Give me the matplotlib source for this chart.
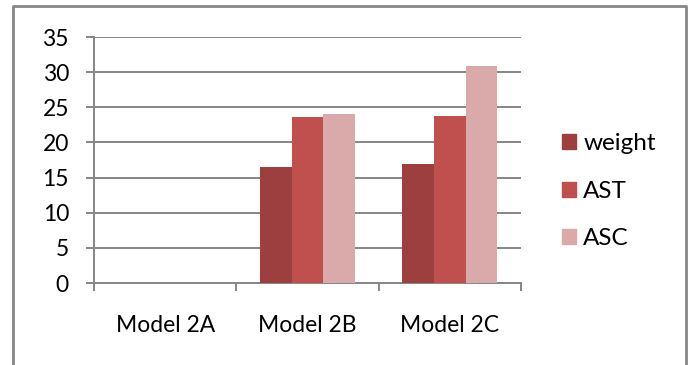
import numpy as np
from matplotlib import pyplot as plt
from matplotlib.patches import Patch

plt.rcParams['font.family'] = ['Lato', 'DejaVu Sans']

models = ['Model 2A', 'Model 2B', 'Model 2C']
weight = [0, 16.5, 16.9]
ast = [0, 23.65, 23.8]
asc = [0, 24.1, 30.9]

series = [('weight', weight, '#9d3f3e'),
          ('AST', ast, '#c0504e'),
          ('ASC', asc, '#daa9a9')]

fig = plt.figure(figsize=(6.91, 3.65), dpi=100)
ax = fig.add_axes([94 / 691, 1 - 283 / 365, 427 / 691, 246 / 365])

x = np.arange(len(models))
w = 0.222
for i, (name, vals, col) in enumerate(series):
    ax.bar(x + (i - 1) * w, vals, w, color=col, label=name, zorder=3,
           edgecolor='none')

ax.set_xlim(-0.5, 2.5)
ax.set_ylim(0, 35)
ax.set_yticks(range(0, 36, 5))
ax.grid(axis='y', color='#868686', linewidth=1.4, zorder=0)
ax.set_xticks([-0.5, 0.5, 1.5, 2.5])
ax.set_xticklabels([])
ax.set_xticks(x, minor=True)
ax.set_xticklabels(models, minor=True, fontsize=16.5)
ax.tick_params(axis='x', which='minor', length=0, pad=23)
ax.tick_params(axis='x', which='major', length=6, width=1.4, color='#868686')
ax.tick_params(axis='y', length=6, width=1.4, color='#868686', labelsize=16.5, pad=12)

for side in ['top', 'right']:
    ax.spines[side].set_visible(False)
for side in ['left', 'bottom']:
    ax.spines[side].set_color('#868686')
    ax.spines[side].set_linewidth(1.4)

handles = [Patch(color=c, label=n) for n, _, c in series]
fig.legend(handles=handles, loc='upper left', bbox_to_anchor=(562 / 691, 1 - 133 / 365),
           frameon=False, fontsize=17.5, handlelength=0.58, handleheight=0.58,
           handletextpad=0.3, labelspacing=1.1, borderaxespad=0, borderpad=0)

# outer chart border (open at the bottom)
fig.add_artist(plt.Line2D([13 / 691, 13 / 691, 686 / 691, 686 / 691],
                          [0, 1 - 6 / 365, 1 - 6 / 365, 0],
                          transform=fig.transFigure, color='#868686', linewidth=2))

fig.savefig('out.png', dpi=100)
plt.close(fig)
